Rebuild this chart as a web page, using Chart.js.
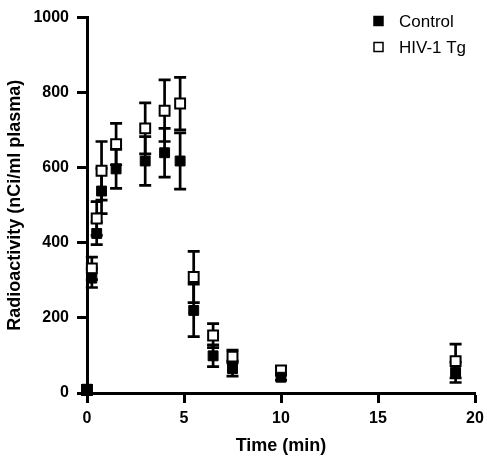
<!DOCTYPE html>
<html>
<head>
<meta charset="utf-8">
<script src="https://cdn.jsdelivr.net/npm/chart.js@4.4.0/dist/chart.umd.min.js"></script>
<style>
  html, body { margin: 0; padding: 0; background: #fff; }
  #wrap { width: 487px; height: 459px; }
</style>
</head>
<body>
<div id="wrap"><canvas id="chart"></canvas></div>
<script>
// Plasma radioactivity after injection, mean ± error
const times = [0, 0.25, 0.5, 0.75, 1.5, 3, 4, 4.8, 5.5, 6.5, 7.5, 10, 19];
const controlMean = [10, 306, 425, 538, 597, 618, 640, 618, 220, 99, 65, 42, 55];
const controlErr = [0, 25, 30, 60, 52, 65, 65, 75, 70, 29, 20, 8, 27];
const hivMean = [8, 332, 465, 592, 663, 705, 752, 771, 309, 153, 97, 60, 85];
const hivErr = [0, 30, 45, 78, 55, 68, 82, 70, 68, 32, 17, 11, 45];
const xTicks = [0, 5, 10, 15, 20];
const yTicks = [0, 200, 400, 600, 800, 1000];
const seriesNames = ['Control', 'HIV-1 Tg'];

const FONT = '"Liberation Sans", Arial, Helvetica, sans-serif';

function toPoints(xs, ys) {
    return xs.map((x, i) => ({ x: x, y: ys[i] }));
}

// draws vertical error bars with caps, using the chart's own scales
const errorBars = {
    id: 'errorBars',
    beforeDatasetsDraw(chart) {
        const ctx = chart.ctx;
        const xs = chart.scales.x, ys = chart.scales.y;
        ctx.save();
        ctx.strokeStyle = '#000';
        ctx.lineWidth = 2.7;
        chart.data.datasets.forEach(ds => {
            ds.data.forEach((p, i) => {
                const e = ds.errors[i];
                if (!e) return;
                const px = xs.getPixelForValue(p.x);
                const top = ys.getPixelForValue(p.y + e);
                const bot = ys.getPixelForValue(p.y - e);
                ctx.beginPath();
                ctx.moveTo(px, top); ctx.lineTo(px, bot);
                ctx.moveTo(px - 6, top); ctx.lineTo(px + 6, top);
                ctx.moveTo(px - 6, bot); ctx.lineTo(px + 6, bot);
                ctx.stroke();
            });
        });
        ctx.restore();
    }
};

// legend in the top right corner of the plot
const cornerLegend = {
    id: 'cornerLegend',
    afterDraw(chart) {
        const ctx = chart.ctx;
        ctx.save();
        ctx.font = '17px ' + FONT;
        ctx.textBaseline = 'middle';
        ctx.fillStyle = '#000';
        const rows = [21, 47];
        chart.data.datasets.forEach((ds, i) => {
            const y = rows[i];
            ctx.lineWidth = 1.5;
            ctx.strokeStyle = '#000';
            ctx.fillStyle = ds.backgroundColor;
            ctx.fillRect(374, y - 4.5, 9, 9);
            ctx.strokeRect(374, y - 4.5, 9, 9);
            ctx.fillStyle = '#000';
            ctx.fillText(ds.label, 399, y + 1);
        });
        ctx.restore();
    }
};

const axisCommon = {
    border: { display: true, color: '#000', width: 3 },
    grid: { drawOnChartArea: false, drawTicks: true, tickLength: 10, tickWidth: 3, tickColor: '#000', color: '#000' }
};

new Chart(document.getElementById('chart'), {
    type: 'scatter',
    data: {
        datasets: [
            {
                label: seriesNames[0],
                data: toPoints(times, controlMean),
                errors: controlErr,
                pointStyle: 'rect',
                pointRadius: 7,
                backgroundColor: '#000',
                borderColor: '#000',
                borderWidth: 1,
                clip: false
            },
            {
                label: seriesNames[1],
                data: toPoints(times, hivMean),
                errors: hivErr,
                pointStyle: 'rect',
                pointRadius: 7,
                backgroundColor: '#fff',
                borderColor: '#000',
                borderWidth: 2,
                clip: false
            }
        ]
    },
    options: {
        responsive: true,
        maintainAspectRatio: false,
        animation: false,
        layout: { padding: { top: 7, right: 12, left: 0, bottom: 0 } },
        plugins: { legend: { display: false }, tooltip: { enabled: false } },
        scales: {
            x: {
                ...axisCommon,
                type: 'linear',
                min: 0, max: 20,
                afterBuildTicks: s => { s.ticks = xTicks.map(v => ({ value: v })); },
                // fixed height; end labels must not push the plot inward
                afterFit: s => { s.height = 66; s.paddingLeft = 0; s.paddingRight = 0; },
                ticks: { color: '#000', padding: 6, maxRotation: 0, callback: v => String(v),
                         font: { family: FONT, size: 16, weight: 'bold' } },
                title: { display: true, text: 'Time (min)', color: '#000', padding: { bottom: 2 },
                         font: { family: FONT, size: 18, weight: 'bold' } }
            },
            y: {
                ...axisCommon,
                type: 'linear',
                min: 0, max: 1000,
                afterBuildTicks: s => { s.ticks = yTicks.map(v => ({ value: v })); },
                afterFit: s => { s.width = 87; },
                ticks: { color: '#000', padding: 8, callback: v => String(v),
                         font: { family: FONT, size: 16, weight: 'bold' } },
                title: { display: true, text: 'Radioactivity (nCi/ml plasma)', color: '#000', padding: { top: 4 },
                         font: { family: FONT, size: 18, weight: 'bold' } }
            }
        }
    },
    plugins: [errorBars, cornerLegend]
});
</script>
</body>
</html>
